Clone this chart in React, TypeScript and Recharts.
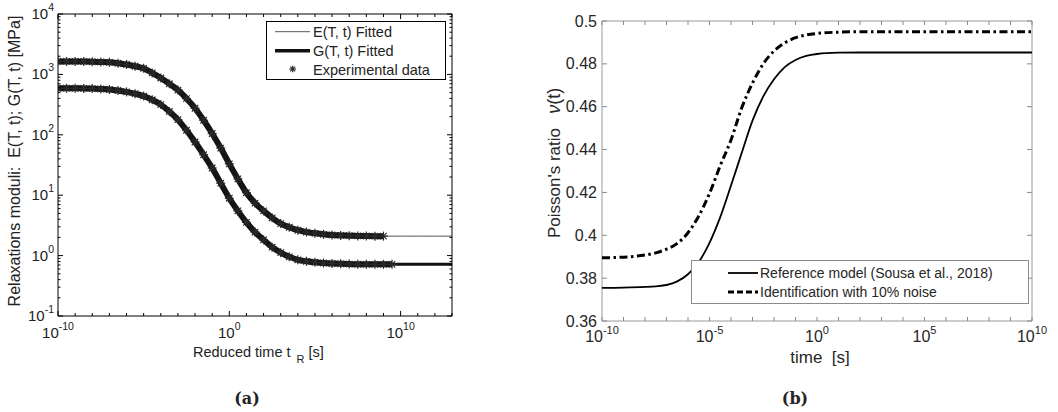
import React from 'react';
import { ComposedChart, Line, XAxis, YAxis, ReferenceArea, Legend } from 'recharts';

const FONT = "'Liberation Sans', Arial, sans-serif";

// (a) relaxation moduli [MPa] against reduced time, given as exponents of t_R [s]
const fitExp = [-10, -9, -8, -7, -6, -5, -4, -3, -2, -1, 0, 1, 2, 3, 4, 5, 6, 7, 8, 9, 10, 11, 12, 13];
const fitE = [1641, 1641, 1622, 1585, 1462, 1259, 871, 550, 275, 105, 33.1, 11.0, 5.5, 3.39, 2.63, 2.34, 2.19, 2.14, 2.11, 2.1, 2.1, 2.1, 2.1, 2.1];
const fitG = [589, 589, 582, 562, 513, 437, 316, 178, 75.9, 28.2, 8.91, 3.55, 1.82, 1.12, 0.851, 0.776, 0.741, 0.724, 0.716, 0.716, 0.716, 0.716, 0.716, 0.716];

const expExp = [
  -10, -9.5, -9, -8.5, -8, -7.5, -7, -6.5, -6, -5.5, -5, -4.5, -4, -3.5, -3, -2.5, -2, -1.5, -1, -0.5,
  0, 0.5, 1, 1.5, 2, 2.5, 3, 3.5, 4, 4.5, 5, 5.5, 6, 6.5, 7, 7.5, 8, 8.5, 9, 9.5,
];
const expE = [
  1641, 1641, 1641, 1633, 1622, 1603, 1585, 1531, 1462, 1365, 1259, 1059, 871, 700, 550, 398, 275, 174, 105, 60.3,
  33.1, 18.6, 11.0, 7.41, 5.5, 4.22, 3.39, 2.95, 2.63, 2.45, 2.34, 2.25, 2.19, 2.16, 2.14, 2.12, 2.11, 2.1, 2.1,
];
const expG = [
  589, 589, 589, 586, 582, 573, 562, 541, 513, 479, 437, 380, 316, 243, 178, 119, 75.9, 46.8, 28.2, 15.8,
  8.91, 5.5, 3.55, 2.45, 1.82, 1.38, 1.12, 0.955, 0.851, 0.804, 0.776, 0.755, 0.741, 0.731, 0.724, 0.719, 0.716, 0.716, 0.716, 0.716,
];

const aXLabelExp = [-10, 0, 10];
const aYLabelExp = [-1, 0, 1, 2, 3, 4];

// (b) Poisson's ratio against time, exponents of t [s]
const nuExp = [-10, -9, -8, -7.5, -7, -6.5, -6, -5.5, -5, -4.5, -4, -3.5, -3, -2.5, -2, -1.5, -1, -0.5, 0, 1, 2, 4, 6, 8, 10];
const nuRef = [
  0.3755, 0.3756, 0.3759, 0.3762, 0.3768, 0.3785, 0.3818, 0.3875, 0.3965, 0.4085, 0.4232, 0.4385, 0.4535,
  0.4648, 0.4728, 0.4785, 0.4818, 0.4837, 0.4846, 0.4852, 0.4853, 0.4853, 0.4853, 0.4853, 0.4853,
];
const nuNoisy = [
  0.3895, 0.3898, 0.3908, 0.3918, 0.3935, 0.3962, 0.4012, 0.409, 0.4195, 0.4325, 0.4445, 0.4595, 0.471,
  0.48, 0.486, 0.4898, 0.4922, 0.4935, 0.4942, 0.4948, 0.495, 0.495, 0.495, 0.495, 0.495,
];

const bXLabelExp = [-10, -5, 0, 5, 10];
const bYTicks = [0.36, 0.38, 0.4, 0.42, 0.44, 0.46, 0.48, 0.5];

const fitData = fitExp.map((e, i) => ({ t: 10 ** e, E: fitE[i], G: fitG[i] }));
const expEData = expE.map((v, i) => ({ t: 10 ** expExp[i], v }));
const expGData = expG.map((v, i) => ({ t: 10 ** expExp[i], v }));
const nuData = nuExp.map((e, i) => ({ t: 10 ** e, ref: nuRef[i], noisy: nuNoisy[i] }));

const aXTicks: number[] = [];
for (let e = -10; e <= 13; e++) aXTicks.push(10 ** e);
const aYTicks: number[] = [];
for (let e = -1; e < 4; e++) for (let m = 1; m < 10; m++) aYTicks.push(m * 10 ** e);
aYTicks.push(1e4);
const bXTicks: number[] = [];
for (let e = -10; e <= 10; e++) bXTicks.push(10 ** e);

// plot boxes, in each chart's own svg coordinates
const A = { left: 58, right: 452, top: 14, bottom: 316 };
const B = { left: 72, right: 502, top: 21, bottom: 321 };

const decadeOf = (v: number) => {
  const lg = Math.log10(v);
  const e = Math.round(lg);
  return { e, exact: Math.abs(lg - e) < 1e-6 };
};

const AXTick = ({ x, payload }: any) => {
  const { e } = decadeOf(payload.value);
  const labeled = aXLabelExp.includes(e);
  const len = labeled ? 5 : 3;
  return (
    <g>
      <line x1={x} x2={x} y1={A.bottom} y2={A.bottom - len} stroke="#000" />
      <line x1={x} x2={x} y1={A.top} y2={A.top + len} stroke="#000" />
      {labeled && (
        <text x={x} y={A.bottom + 22} textAnchor="middle" fontFamily={FONT} fontSize={15} fill="#222">
          10<tspan dy={-8} fontSize={10.5}>{e}</tspan>
        </text>
      )}
    </g>
  );
};

const AYTick = ({ y, payload }: any) => {
  const { e, exact } = decadeOf(payload.value);
  const len = exact ? 5 : 2.5;
  return (
    <g>
      <line x1={A.left} x2={A.left + len} y1={y} y2={y} stroke="#000" />
      <line x1={A.right} x2={A.right - len} y1={y} y2={y} stroke="#000" />
      {exact && aYLabelExp.includes(e) && (
        <text x={A.left - 4} y={y + 5} textAnchor="end" fontFamily={FONT} fontSize={15} fill="#222">
          10<tspan dy={-8} fontSize={10.5}>{e}</tspan>
        </text>
      )}
    </g>
  );
};

const BXTick = ({ x, payload }: any) => {
  const { e } = decadeOf(payload.value);
  const labeled = bXLabelExp.includes(e);
  return (
    <g>
      <line x1={x} x2={x} y1={B.bottom} y2={B.bottom - 4} stroke="#8a8a8a" />
      <line x1={x} x2={x} y1={B.top} y2={B.top + 4} stroke="#8a8a8a" />
      {labeled && (
        <text x={x} y={B.bottom + 21} textAnchor="middle" fontFamily={FONT} fontSize={16} fill="#262626">
          10<tspan dy={-8} fontSize={11}>{e}</tspan>
        </text>
      )}
    </g>
  );
};

const BYTick = ({ y, payload }: any) => (
  <g>
    <line x1={B.left} x2={B.left + 5} y1={y} y2={y} stroke="#8a8a8a" />
    <line x1={B.right} x2={B.right - 5} y1={y} y2={y} stroke="#8a8a8a" />
    <text x={B.left - 5} y={y + 5.5} textAnchor="end" fontFamily={FONT} fontSize={16} fill="#262626">
      {String(Number(payload.value.toFixed(2)))}
    </text>
  </g>
);

const Asterisk = ({ cx, cy, r = 4.5, color = '#2a2a2a' }: any) => {
  const d = r * 0.72;
  return (
    <g stroke={color} strokeWidth={1.2}>
      <line x1={cx - r} y1={cy} x2={cx + r} y2={cy} />
      <line x1={cx} y1={cy - r} x2={cx} y2={cy + r} />
      <line x1={cx - d} y1={cy - d} x2={cx + d} y2={cy + d} />
      <line x1={cx - d} y1={cy + d} x2={cx + d} y2={cy - d} />
    </g>
  );
};

const XLabelA = () => (
  <g fontFamily={FONT} fill="#222">
    <text x={193} y={357} fontSize={14.5}>
      Reduced time t<tspan dx={6} dy={6} fontSize={11}>R</tspan>
      <tspan dx={4} dy={-6} fontSize={14.5}>[s]</tspan>
    </text>
    <text x={247} y={404} textAnchor="middle" fontFamily="'DejaVu Serif', serif" fontWeight="bold" fontSize={16}>
      (a)
    </text>
  </g>
);

const YLabelA = () => (
  <text
    transform="translate(20,161) rotate(-90)"
    textAnchor="middle"
    fontFamily={FONT}
    fontSize={16}
    fill="#222"
    style={{ whiteSpace: 'pre' }}
  >
    {'Relaxations moduli:  E(T, t); G(T, t) [MPa]'}
  </text>
);

const XLabelB = () => (
  <g fontFamily={FONT} fill="#262626">
    <text x={290} y={363} textAnchor="middle" fontSize={17} style={{ whiteSpace: 'pre' }}>
      {'time  [s]'}
    </text>
    <text x={265} y={404} textAnchor="middle" fontFamily="'DejaVu Serif', serif" fontWeight="bold" fontSize={16}>
      (b)
    </text>
  </g>
);

const YLabelB = () => (
  <text
    transform="translate(30,238) rotate(-90)"
    fontFamily={FONT}
    fontSize={17}
    fill="#262626"
    style={{ whiteSpace: 'pre' }}
  >
    {"Poisson's ratio   "}
    <tspan fontStyle="italic" fontSize={18}>ν</tspan>
    <tspan fontSize={18}>(t)</tspan>
  </text>
);

const LegendA = () => (
  <svg width={181} height={60} style={{ display: 'block' }}>
    <rect x={0.5} y={0.5} width={179} height={58} fill="#fff" stroke="#000" />
    <g fontFamily={FONT} fontSize={14.5} fill="#222">
      <line x1={9} x2={44} y1={10.7} y2={10.7} stroke="#555" strokeWidth={1} />
      <text x={47} y={16}>E(T, t) Fitted</text>
      <line x1={9} x2={44} y1={29.7} y2={29.7} stroke="#111" strokeWidth={3.5} />
      <text x={47} y={35}>G(T, t) Fitted</text>
      <Asterisk cx={26.7} cy={48} r={3.3} />
      <text x={47} y={53.5}>Experimental data</text>
    </g>
  </svg>
);

const LegendB = () => (
  <svg width={339} height={45} style={{ display: 'block' }}>
    <rect x={0.5} y={0.5} width={337} height={43} fill="#fff" stroke="#8c8c8c" />
    <g fontFamily={FONT} fontSize={14} fill="#262626">
      <line x1={37} x2={67} y1={13} y2={13} stroke="#000" strokeWidth={1.8} />
      <text x={69} y={18}>Reference model (Sousa et al., 2018)</text>
      <line x1={37} x2={67} y1={32} y2={32} stroke="#000" strokeWidth={3} strokeDasharray="6 3" />
      <text x={69} y={37}>Identification with 10% noise</text>
    </g>
  </svg>
);

export default function App() {
  return (
    <div style={{ position: 'absolute', left: 0, top: 0, width: 1058, height: 412, background: '#fff' }}>
      <div style={{ position: 'absolute', left: 0, top: 0 }}>
        <ComposedChart width={470} height={412} margin={{ top: 14, right: 18, bottom: 42, left: 0 }}>
          <XAxis
            dataKey="t"
            type="number"
            scale="log"
            domain={[1e-10, 1e13]}
            allowDataOverflow
            ticks={aXTicks}
            interval={0}
            height={54}
            axisLine={false}
            tickLine={false}
            tick={<AXTick />}
            label={<XLabelA />}
          />
          <YAxis
            type="number"
            scale="log"
            domain={[0.1, 1e4]}
            allowDataOverflow
            ticks={aYTicks}
            interval={0}
            width={58}
            axisLine={false}
            tickLine={false}
            tick={<AYTick />}
            label={<YLabelA />}
          />
          <ReferenceArea x1={1e-10} x2={1e13} y1={0.1} y2={1e4} fill="none" stroke="#000" ifOverflow="visible" />
          <Line data={fitData} dataKey="E" type="monotone" stroke="#555" strokeWidth={1} dot={false} activeDot={false} isAnimationActive={false} />
          <Line data={fitData} dataKey="G" type="monotone" stroke="#111" strokeWidth={3} dot={false} activeDot={false} isAnimationActive={false} />
          <Line
            data={expEData}
            dataKey="v"
            type="monotone"
            stroke="#141414"
            strokeWidth={6}
            dot={(p: any) => <Asterisk key={`e${p.index}`} cx={p.cx} cy={p.cy} />}
            activeDot={false}
            isAnimationActive={false}
          />
          <Line
            data={expGData}
            dataKey="v"
            type="monotone"
            stroke="#141414"
            strokeWidth={6}
            dot={(p: any) => <Asterisk key={`g${p.index}`} cx={p.cx} cy={p.cy} />}
            activeDot={false}
            isAnimationActive={false}
          />
          <Legend
            layout="horizontal"
            verticalAlign="middle"
            align="center"
            content={() => <LegendA />}
            wrapperStyle={{ position: 'absolute', left: 266, top: 21, width: 181, height: 60 }}
          />
        </ComposedChart>
      </div>
      <div style={{ position: 'absolute', left: 530, top: 0 }}>
        <ComposedChart width={528} height={412} data={nuData} margin={{ top: 21, right: 26, bottom: 42, left: 0 }}>
          <XAxis
            dataKey="t"
            type="number"
            scale="log"
            domain={[1e-10, 1e10]}
            allowDataOverflow
            ticks={bXTicks}
            interval={0}
            height={49}
            axisLine={false}
            tickLine={false}
            tick={<BXTick />}
            label={<XLabelB />}
          />
          <YAxis
            type="number"
            domain={[0.36, 0.5]}
            allowDataOverflow
            ticks={bYTicks}
            interval={0}
            width={72}
            axisLine={false}
            tickLine={false}
            tick={<BYTick />}
            label={<YLabelB />}
          />
          <ReferenceArea x1={1e-10} x2={1e10} y1={0.36} y2={0.5} fill="none" stroke="#9a9a9a" ifOverflow="visible" />
          <Line dataKey="ref" type="monotone" stroke="#000" strokeWidth={1.8} dot={false} activeDot={false} isAnimationActive={false} />
          <Line
            dataKey="noisy"
            type="monotone"
            stroke="#000"
            strokeWidth={3}
            strokeDasharray="8 3.5 2.5 3.5"
            dot={false}
            activeDot={false}
            isAnimationActive={false}
          />
          <Legend
            layout="horizontal"
            verticalAlign="middle"
            align="center"
            content={() => <LegendB />}
            wrapperStyle={{ position: 'absolute', left: 161, top: 260, width: 339, height: 45 }}
          />
        </ComposedChart>
      </div>
    </div>
  );
}
